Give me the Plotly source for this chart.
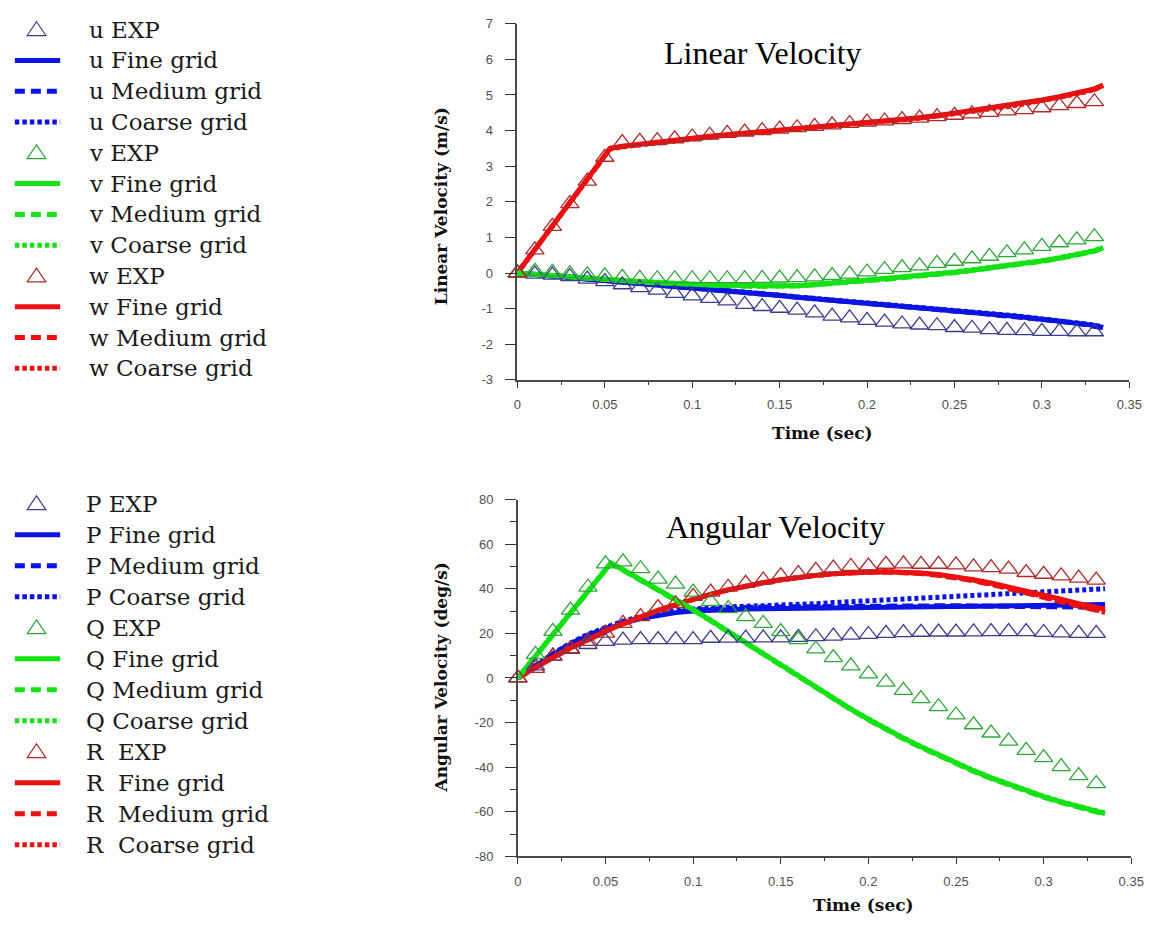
import plotly.graph_objects as go

W, H = 1163, 925

# ---- time bases -----------------------------------------------------------
T_EXP = [0.00, 0.01, 0.02, 0.03, 0.04, 0.05, 0.06, 0.07, 0.08, 0.09,
         0.10, 0.11, 0.12, 0.13, 0.14, 0.15, 0.16, 0.17, 0.18, 0.19,
         0.20, 0.21, 0.22, 0.23, 0.24, 0.25, 0.26, 0.27, 0.28, 0.29,
         0.30, 0.31, 0.32, 0.33]
T_SIM = [0.00, 0.01, 0.02, 0.03, 0.04, 0.053, 0.06, 0.07, 0.08, 0.09,
         0.10, 0.11, 0.12, 0.13, 0.14, 0.15, 0.16, 0.17, 0.18, 0.19,
         0.20, 0.21, 0.22, 0.23, 0.24, 0.25, 0.26, 0.27, 0.28, 0.29,
         0.30, 0.31, 0.32, 0.33, 0.335]

# ---- linear velocity (m/s) ------------------------------------------------
U_EXP = [0.00, -0.03, -0.06, -0.10, -0.17, -0.24, -0.33, -0.41, -0.48, -0.57,
         -0.64, -0.71, -0.78, -0.88, -0.94, -0.99, -1.04, -1.12, -1.21, -1.26,
         -1.33, -1.38, -1.43, -1.46, -1.48, -1.53, -1.55, -1.59, -1.61, -1.62,
         -1.64, -1.64, -1.65, -1.65]
V_EXP = [0.00, 0.05, 0.02, -0.02, -0.05, -0.08, -0.12, -0.15, -0.16, -0.16,
         -0.16, -0.16, -0.16, -0.16, -0.15, -0.14, -0.13, -0.11, -0.07, -0.03,
         0.03, 0.10, 0.15, 0.20, 0.27, 0.33, 0.40, 0.47, 0.57, 0.65,
         0.75, 0.85, 0.93, 1.02]
W_EXP = [0.00, 0.65, 1.31, 1.95, 2.58, 3.25, 3.66, 3.70, 3.72, 3.77,
         3.82, 3.87, 3.92, 3.96, 4.00, 4.04, 4.08, 4.12, 4.16, 4.20,
         4.24, 4.27, 4.31, 4.35, 4.39, 4.43, 4.47, 4.51, 4.55, 4.59,
         4.64, 4.70, 4.76, 4.81]

U_FINE = [0.00, -0.04, -0.08, -0.12, -0.16, -0.21, -0.25, -0.28, -0.32, -0.36,
          -0.40, -0.44, -0.49, -0.53, -0.58, -0.63, -0.68, -0.72, -0.76, -0.80,
          -0.84, -0.88, -0.93, -0.97, -1.01, -1.06, -1.10, -1.15, -1.19, -1.24,
          -1.29, -1.34, -1.40, -1.47, -1.53]
U_MEDIUM = [0.00, -0.04, -0.08, -0.12, -0.16, -0.21, -0.25, -0.29, -0.33, -0.37,
            -0.41, -0.45, -0.50, -0.54, -0.59, -0.63, -0.68, -0.72, -0.77, -0.81,
            -0.85, -0.89, -0.94, -0.98, -1.02, -1.07, -1.11, -1.16, -1.20, -1.25,
            -1.30, -1.35, -1.41, -1.48, -1.54]
U_COARSE = [0.00, -0.04, -0.08, -0.11, -0.15, -0.20, -0.24, -0.28, -0.32, -0.36,
            -0.40, -0.44, -0.48, -0.53, -0.57, -0.62, -0.67, -0.71, -0.75, -0.79,
            -0.83, -0.88, -0.92, -0.96, -1.00, -1.05, -1.09, -1.14, -1.18, -1.23,
            -1.28, -1.33, -1.39, -1.46, -1.52]

V_FINE = [0.00, -0.04, -0.08, -0.11, -0.15, -0.19, -0.21, -0.24, -0.27, -0.30,
          -0.32, -0.34, -0.35, -0.36, -0.37, -0.37, -0.36, -0.33, -0.29, -0.25,
          -0.21, -0.17, -0.13, -0.08, -0.03, 0.02, 0.08, 0.14, 0.20, 0.27,
          0.34, 0.42, 0.51, 0.62, 0.71]
V_MEDIUM = [0.00, -0.04, -0.08, -0.12, -0.15, -0.19, -0.22, -0.25, -0.28, -0.30,
            -0.33, -0.34, -0.36, -0.37, -0.37, -0.37, -0.36, -0.33, -0.30, -0.26,
            -0.22, -0.18, -0.13, -0.09, -0.04, 0.01, 0.07, 0.13, 0.19, 0.26,
            0.33, 0.41, 0.50, 0.61, 0.70]
V_COARSE = [0.00, -0.04, -0.07, -0.11, -0.14, -0.18, -0.21, -0.24, -0.27, -0.29,
            -0.32, -0.33, -0.35, -0.36, -0.36, -0.36, -0.35, -0.32, -0.29, -0.25,
            -0.20, -0.16, -0.12, -0.07, -0.02, 0.03, 0.09, 0.15, 0.21, 0.28,
            0.35, 0.43, 0.52, 0.63, 0.72]

W_FINE = [0.00, 0.66, 1.32, 1.98, 2.64, 3.50, 3.56, 3.62, 3.68, 3.74,
          3.79, 3.84, 3.88, 3.93, 3.97, 4.02, 4.06, 4.10, 4.14, 4.18,
          4.22, 4.26, 4.31, 4.36, 4.42, 4.49, 4.55, 4.62, 4.69, 4.77,
          4.86, 4.95, 5.05, 5.17, 5.28]
W_MEDIUM = [0.00, 0.66, 1.32, 1.97, 2.63, 3.49, 3.55, 3.61, 3.67, 3.73,
            3.78, 3.83, 3.88, 3.92, 3.97, 4.01, 4.05, 4.09, 4.13, 4.17,
            4.21, 4.25, 4.30, 4.35, 4.41, 4.48, 4.54, 4.61, 4.68, 4.76,
            4.85, 4.94, 5.04, 5.16, 5.27]
W_COARSE = [0.00, 0.65, 1.31, 1.96, 2.62, 3.48, 3.54, 3.60, 3.66, 3.72,
            3.77, 3.82, 3.87, 3.92, 3.96, 4.01, 4.05, 4.09, 4.13, 4.17,
            4.21, 4.25, 4.30, 4.35, 4.41, 4.47, 4.53, 4.60, 4.67, 4.75,
            4.84, 4.93, 5.03, 5.15, 5.26]

# ---- angular velocity (deg/s) ---------------------------------------------
P_EXP = [0.0, 5.4, 9.8, 12.8, 15.0, 16.4, 17.0, 17.2, 17.2, 17.2,
         17.2, 17.8, 17.9, 17.9, 18.0, 18.0, 18.2, 18.5, 18.8, 19.2,
         19.5, 20.0, 20.3, 20.5, 20.6, 20.6, 20.7, 20.8, 20.8, 20.8,
         20.4, 20.2, 20.0, 20.0]
Q_EXP = [0.0, 10.6, 20.9, 30.4, 40.7, 51.2, 52.1, 49.0, 44.3, 42.1,
         38.5, 34.3, 31.1, 27.5, 24.5, 20.8, 17.2, 13.0, 9.1, 5.4,
         1.8, -1.9, -5.6, -9.3, -12.9, -16.6, -21.0, -24.7, -28.3, -32.5,
         -35.7, -39.8, -43.8, -47.4]
R_EXP = [0.0, 4.3, 9.8, 13.1, 16.4, 20.1, 24.5, 27.5, 31.6, 33.3,
         36.6, 38.5, 40.7, 42.4, 43.9, 45.8, 46.8, 48.3, 49.3, 50.0,
         50.2, 51.0, 51.2, 51.0, 51.0, 50.7, 49.8, 49.5, 48.8, 47.3,
         46.5, 45.8, 44.8, 43.9]

P_FINE = [0.0, 5.5, 10.5, 15.0, 18.8, 22.5, 24.5, 26.6, 28.2, 29.3,
          30.0, 30.4, 30.7, 30.9, 31.0, 31.1, 31.2, 31.3, 31.4, 31.5,
          31.5, 31.6, 31.7, 31.8, 31.9, 32.0, 32.1, 32.2, 32.3, 32.4,
          32.5, 32.6, 32.7, 32.8, 32.9]
P_MEDIUM = [0.0, 5.6, 10.7, 15.3, 19.2, 23.0, 25.0, 27.0, 28.6, 29.7,
            30.5, 31.0, 31.3, 31.6, 31.8, 31.9, 32.0, 32.1, 32.2, 32.2,
            32.3, 32.3, 32.3, 32.4, 32.4, 32.4, 32.3, 32.3, 32.2, 32.1,
            32.0, 31.9, 31.8, 31.6, 31.5]
P_COARSE = [0.0, 5.7, 10.9, 15.6, 19.6, 23.5, 25.5, 27.5, 29.1, 30.2,
            31.0, 31.5, 31.9, 32.2, 32.4, 32.6, 33.0, 33.3, 33.8, 34.2,
            34.6, 35.1, 35.6, 36.0, 36.4, 36.8, 37.2, 37.6, 38.0, 38.4,
            38.8, 39.1, 39.4, 39.8, 40.0]

Q_FINE = [0.0, 9.7, 19.4, 29.2, 38.9, 51.5, 48.5, 44.1, 39.7, 35.2,
          30.6, 25.8, 20.8, 15.7, 10.6, 5.5, 0.5, -4.5, -9.3, -14.0,
          -18.5, -22.9, -27.0, -30.9, -34.6, -38.2, -41.6, -44.8, -47.8, -50.6,
          -53.2, -55.6, -57.8, -59.8, -60.8]
Q_MEDIUM = [0.0, 9.7, 19.4, 29.1, 38.8, 51.3, 48.3, 43.9, 39.5, 35.0,
            30.4, 25.6, 20.6, 15.5, 10.4, 5.3, 0.3, -4.7, -9.5, -14.2,
            -18.8, -23.2, -27.3, -31.2, -34.9, -38.5, -41.9, -45.1, -48.1, -50.9,
            -53.5, -55.9, -58.1, -60.1, -61.1]
Q_COARSE = [0.0, 9.8, 19.5, 29.3, 39.0, 51.6, 48.6, 44.2, 39.8, 35.3,
            30.7, 25.9, 20.9, 15.8, 10.7, 5.6, 0.6, -4.4, -9.2, -13.9,
            -18.4, -22.8, -26.9, -30.8, -34.5, -38.1, -41.5, -44.7, -47.7, -50.5,
            -53.1, -55.5, -57.7, -59.7, -60.6]

R_FINE = [0.0, 4.7, 9.2, 13.4, 17.3, 22.0, 24.3, 27.4, 30.3, 32.9,
          35.3, 37.5, 39.5, 41.2, 42.7, 44.0, 45.1, 46.0, 46.7, 47.2,
          47.5, 47.6, 47.5, 47.1, 46.4, 45.4, 44.1, 42.6, 40.9, 39.1,
          37.2, 35.3, 33.3, 31.5, 30.8]
R_MEDIUM = [0.0, 4.7, 9.2, 13.4, 17.3, 22.0, 24.3, 27.4, 30.3, 32.9,
            35.3, 37.5, 39.5, 41.2, 42.7, 44.0, 45.1, 46.0, 46.7, 47.2,
            47.4, 47.5, 47.3, 46.8, 46.0, 45.0, 43.6, 42.0, 40.2, 38.3,
            36.2, 34.1, 32.0, 30.2, 29.4]
R_COARSE = [0.0, 4.7, 9.2, 13.4, 17.3, 22.0, 24.3, 27.4, 30.3, 32.9,
            35.3, 37.5, 39.5, 41.2, 42.7, 44.0, 45.1, 46.0, 46.7, 47.2,
            47.5, 47.6, 47.4, 47.0, 46.2, 45.2, 43.8, 42.2, 40.4, 38.5,
            36.5, 34.4, 32.3, 30.3, 29.6]

# ---- tick labels -------------------------------------------------------------
X_TICKS = [0, 0.05, 0.10, 0.15, 0.20, 0.25, 0.30, 0.35]
X_TICK_TEXT = ["0", "0.05", "0.1", "0.15", "0.2", "0.25", "0.3", "0.35"]
X_MINOR = [0.025, 0.075, 0.125, 0.175, 0.225, 0.275, 0.325]
Y1_TICKS = [-3, -2, -1, 0, 1, 2, 3, 4, 5, 6, 7]
Y1_TICK_TEXT = ["-3", "-2", "-1", "0", "1", "2", "3", "4", "5", "6", "7"]
Y2_TICKS = [-80, -60, -40, -20, 0, 20, 40, 60, 80]
Y2_TICK_TEXT = ["-80", "-60", "-40", "-20", "0", "20", "40", "60", "80"]
Y2_MINOR = [-70, -50, -30, -10, 10, 30, 50, 70]

GRID_NAMES = ["Fine grid", "Medium grid", "Coarse grid"]

# ---- styling -------------------------------------------------------------------
EXP_COLOR = ["#3d3d8e", "#2fa83a", "#b02a2a"]      # u/P, v/Q, w/R
LINE_COLOR = ["#0b14e0", "#14e214", "#ec1010"]
LINE_DASH = ["solid", "11px,5px", "4px,3px"]
LEGEND_DASH = ["solid", "10px,6px", "4.5px,3px"]
SERIF = "DejaVu Serif, Liberation Serif, serif"

linear = [
    ("u", U_EXP, [U_FINE, U_MEDIUM, U_COARSE]),
    ("v", V_EXP, [V_FINE, V_MEDIUM, V_COARSE]),
    ("w", W_EXP, [W_FINE, W_MEDIUM, W_COARSE]),
]
angular = [
    ("P", P_EXP, [P_FINE, P_MEDIUM, P_COARSE]),
    ("Q", Q_EXP, [Q_FINE, Q_MEDIUM, Q_COARSE]),
    ("R", R_EXP, [R_FINE, R_MEDIUM, R_COARSE]),
]

fig = go.Figure()


def add_panel(groups, xa, ya, line_order):
    # simulation curves first, measured points drawn over them
    for i in line_order:
        name, _, sims = groups[i]
        for k, vals in enumerate(sims):
            fig.add_trace(go.Scatter(
                x=T_SIM, y=vals, mode="lines", name=f"{name} {GRID_NAMES[k]}",
                line=dict(color=LINE_COLOR[i], width=5, dash=LINE_DASH[k]),
                xaxis=xa, yaxis=ya, cliponaxis=False, showlegend=False))
    for i, (name, exp, _) in enumerate(groups):
        fig.add_trace(go.Scatter(
            x=T_EXP, y=exp, mode="markers", name=f"{name} EXP",
            marker=dict(symbol="triangle-up-open", size=16, color=EXP_COLOR[i],
                        line=dict(width=1.3, color=EXP_COLOR[i])),
            xaxis=xa, yaxis=ya, cliponaxis=False, showlegend=False))


add_panel(linear, "x", "y", [0, 2, 1])
add_panel(angular, "x2", "y2", [0, 2, 1])

tickfont = dict(family="Liberation Sans, Arial, sans-serif", size=13, color="#505050")
axis_base = dict(showgrid=False, zeroline=False, showline=True, linecolor="#4a4a4a",
                 linewidth=1.5, ticks="outside", tickcolor="#333333", tickwidth=1.3,
                 tickfont=tickfont, tickmode="array")

fig.update_layout(
    width=W, height=H,
    margin=dict(l=0, r=0, t=0, b=0),
    paper_bgcolor="white", plot_bgcolor="white",
    showlegend=False,
    xaxis=dict(axis_base, domain=[521 / W, 1142 / W], range=[0, 0.35], anchor="y",
               tickvals=X_TICKS, ticktext=X_TICK_TEXT, ticklen=6, ticklabelstandoff=6,
               minor=dict(tickmode="array", tickvals=X_MINOR, ticks="outside",
                          ticklen=3, tickcolor="#333333", tickwidth=1.2)),
    yaxis=dict(axis_base, domain=[1 - 379 / H, 1 - 17 / H], range=[-3, 7], anchor="x",
               tickvals=Y1_TICKS, ticktext=Y1_TICK_TEXT, ticklen=11, ticklabelstandoff=9),
    xaxis2=dict(axis_base, domain=[521.5 / W, 1144 / W], range=[0, 0.35], anchor="y2",
                tickvals=X_TICKS, ticktext=X_TICK_TEXT, ticklen=6, ticklabelstandoff=6,
                minor=dict(tickmode="array", tickvals=X_MINOR, ticks="outside",
                           ticklen=3, tickcolor="#333333", tickwidth=1.2)),
    yaxis2=dict(axis_base, domain=[1 - 863.3 / H, 1 - 500.7 / H], range=[-80, 80],
                anchor="x2", tickvals=Y2_TICKS, ticktext=Y2_TICK_TEXT, ticklen=11,
                ticklabelstandoff=9,
                minor=dict(tickmode="array", tickvals=Y2_MINOR, ticks="outside",
                           ticklen=6, tickcolor="#333333", tickwidth=1.2)),
)


def px(x):
    return x / W


def py(y):
    return 1 - y / H


annotations = []
shapes = []


def text(x, y, s, size, family=SERIF, color="#111111", xanchor="center",
         angle=0, weight="normal"):
    annotations.append(dict(x=px(x), y=py(y), xref="paper", yref="paper", text=s,
                            showarrow=False, xanchor=xanchor, yanchor="middle",
                            textangle=angle,
                            font=dict(family=family, size=size, color=color,
                                      weight=weight)))


# panel titles and axis titles
text(770, 47, "Linear Velocity", 32, family="Liberation Serif, Times New Roman, serif",
     color="#000000")
text(783, 529, "Angular Velocity", 32, family="Liberation Serif, Times New Roman, serif",
     color="#000000")
text(831, 433, "Time (sec)", 17, weight="bold")
text(872, 913, "Time (sec)", 17, weight="bold")
text(443, 203, "Linear Velocity (m/s)", 17, angle=-90, weight="bold")
text(443, 682, "Angular Velocity (deg/s)", 17, angle=-90, weight="bold")


# hand-built legends to the left of each panel
def legend_block(groups, y0, step, text_x, sep):
    row = 0
    for i, (name, _, _) in enumerate(groups):
        labels = ["EXP"] + GRID_NAMES
        for k, lab in enumerate(labels):
            cy = y0 + row * step
            if k == 0:
                c = EXP_COLOR[i]
                path = (f"M {px(33 - 9.5)},{py(cy + 6)} L {px(33 + 9.5)},{py(cy + 6)} "
                        f"L {px(33)},{py(cy - 8)} Z")
                shapes.append(dict(type="path", path=path, xref="paper", yref="paper",
                                   line=dict(color=c, width=1.2),
                                   fillcolor="rgba(0,0,0,0)"))
            else:
                shapes.append(dict(type="line", xref="paper", yref="paper",
                                   x0=px(11), x1=px(57), y0=py(cy), y1=py(cy),
                                   line=dict(color=LINE_COLOR[i], width=5,
                                             dash=LEGEND_DASH[k - 1])))
            text(text_x, cy, name + sep.get(name, " ") + lab, 23, xanchor="left",
                 color="#1a1a1a")
            row += 1


legend_block(linear, 23, 31.3, 84, {})
legend_block(angular, 505, 31.5, 81, {"R": "\u00a0\u00a0"})

fig.update_layout(annotations=annotations, shapes=shapes)

fig.write_html("out.html")
